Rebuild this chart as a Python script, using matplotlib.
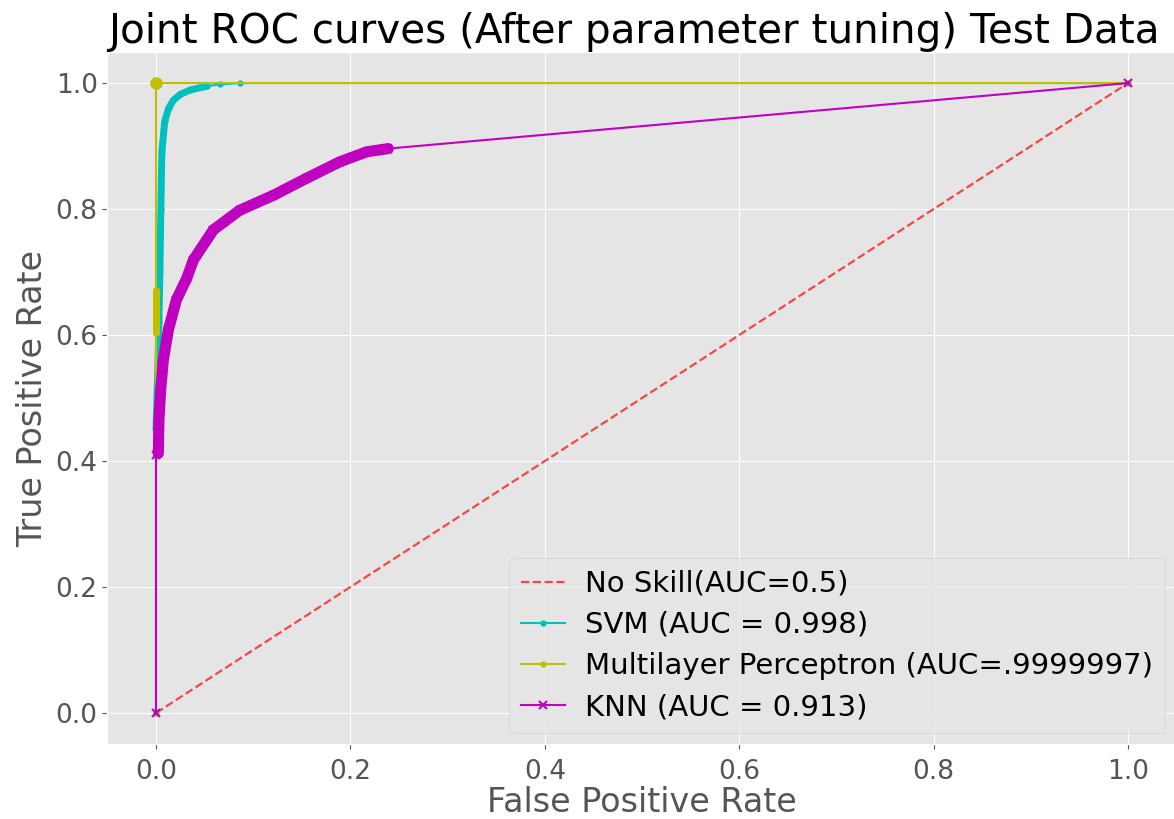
import numpy as np
import matplotlib
matplotlib.use("Agg")
import matplotlib.pyplot as plt

# ROC points (fpr, tpr)
skill_fpr = [0.0, 1.0]
skill_tpr = [0.0, 1.0]

svm_fpr = [0.0, 0.0, 0.002, 0.003, 0.004, 0.005, 0.006, 0.009, 0.013, 0.018,
           0.025, 0.035, 0.052, 0.066, 0.086, 1.0]
svm_tpr = [0.0, 0.45, 0.55, 0.62, 0.70, 0.80, 0.89, 0.94, 0.96, 0.973,
           0.982, 0.989, 0.995, 0.998, 1.0, 1.0]

mlp_fpr = [0.0, 0.0, 0.0, 0.0, 0.0, 0.0, 0.0, 0.0, 1.0]
mlp_tpr = [0.0, 0.603, 0.62, 0.637, 0.654, 0.671, 0.995, 1.0, 1.0]

knn_fpr = [0.0, 0.0, 0.0024, 0.003, 0.0048, 0.0075, 0.0127, 0.021, 0.0316,
           0.0384, 0.059, 0.086, 0.121, 0.155, 0.189, 0.217, 0.239, 1.0]
knn_tpr = [0.0, 0.41, 0.412, 0.465, 0.513, 0.560, 0.608, 0.656, 0.690,
           0.719, 0.767, 0.798, 0.822, 0.849, 0.875, 0.891, 0.896, 1.0]

labels = ["No Skill(AUC=0.5)", "SVM (AUC = 0.998)",
          "Multilayer Perceptron (AUC=.9999997)", "KNN (AUC = 0.913)"]

plt.style.use("ggplot")
fig = plt.figure(figsize=(11.74, 8.19), dpi=100)
ax = fig.add_axes([107.4 / 1174, 0.091, 1069.2 / 1174, 0.846])

ax.plot(skill_fpr, skill_tpr, ls="--", color="#f04848", lw=1.6, label=labels[0])

# dense marker bands (thousands of thresholds in the original)
ax.plot(svm_fpr[1:-3], svm_tpr[1:-3], color="c", lw=5, solid_capstyle="round")
ax.plot(svm_fpr, svm_tpr, color="c", lw=1.5, marker=".", ms=7, label=labels[1])

ax.plot(mlp_fpr, mlp_tpr, color="y", lw=1.5, marker=".", ms=7, label=labels[2])
ax.plot(mlp_fpr[1:6], mlp_tpr[1:6], color="y", lw=5, solid_capstyle="round")
ax.plot([mlp_fpr[7]], [mlp_tpr[7]], color="y", marker="o", ms=8)

ax.plot(knn_fpr[2:-1], knn_tpr[2:-1], color="m", lw=8, solid_capstyle="round")
ax.plot(knn_fpr, knn_tpr, color="m", lw=1.5, marker="x", ms=6, mew=1.5,
        label=labels[3])

ax.set_xlim(-0.05, 1.05)
ax.set_ylim(-0.05, 1.05)
ax.set_xticks([0.0, 0.2, 0.4, 0.6, 0.8, 1.0])
ax.set_yticks([0.0, 0.2, 0.4, 0.6, 0.8, 1.0])
ax.tick_params(labelsize=19, colors="#555555")
ax.tick_params(axis="x", pad=7)
ax.set_xlabel("False Positive Rate", fontsize=24, color="#555555", labelpad=1)
ax.set_ylabel("True Positive Rate", fontsize=24, color="#555555", labelpad=5)
ax.set_title("Joint ROC curves (After parameter tuning) Test Data",
             fontsize=29.2, color="black", pad=5, x=0.492)

ax.legend(loc="lower right", fontsize=21, facecolor="#E5E5E5",
          handlelength=1.5, handletextpad=0.7, labelspacing=0.45,
          borderaxespad=0.4)

fig.savefig("out.png", dpi=100)
